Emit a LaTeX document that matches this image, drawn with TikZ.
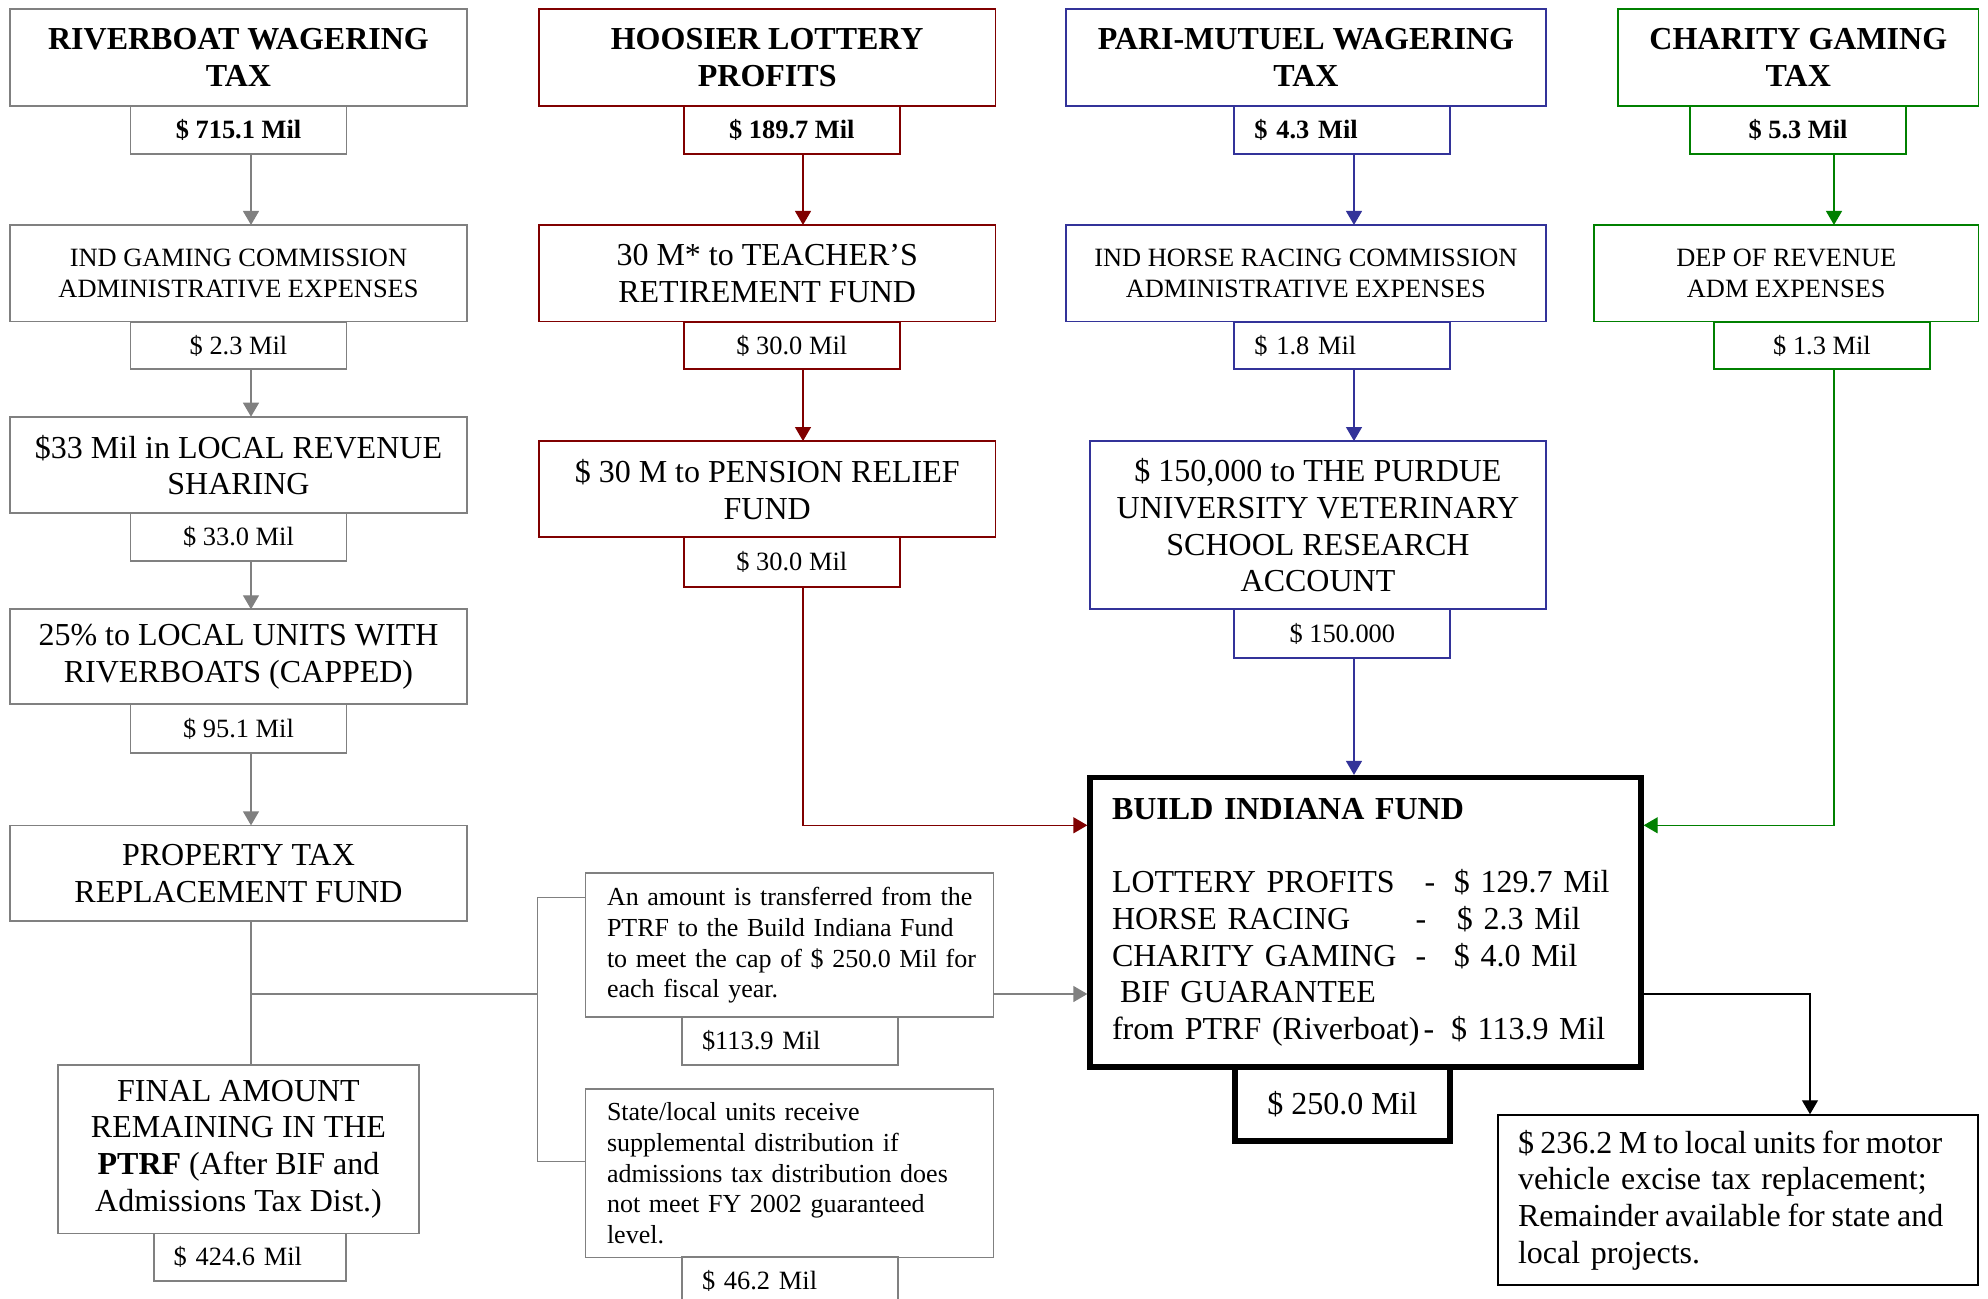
\documentclass[tikz,border=0pt]{standalone}
\usepackage{fontspec}
\setmainfont{Liberation Serif}
\usetikzlibrary{arrows.meta,calc}
\definecolor{cgray}{RGB}{128,128,128}
\definecolor{cred}{RGB}{128,0,0}
\definecolor{cblue}{RGB}{51,51,153}
\definecolor{cgreen}{RGB}{0,128,0}
\newcommand\FBig{\fontsize{16}{18.4}\selectfont}
\newcommand\FMid{\fontsize{13.2}{15.8}\selectfont}
\newcommand\FTxt{\fontsize{13}{15.4}\selectfont}
\newcommand\FBif{\fontsize{16}{18.3}\selectfont}
\begin{document}
\begin{tikzpicture}[x=0.5pt,y=-0.5pt,
  bx/.style={draw, line width=0.85pt, inner sep=0pt, outer sep=0pt, align=center, text=black},
  big/.style={bx, font=\FBig},
  ttl/.style={bx, font=\FBig\bfseries},
  mid/.style={bx, font=\FMid},
  amt/.style={bx, font=\FMid, minimum width=108pt, minimum height=24pt},
  amtb/.style={amt, font=\FMid\bfseries},
  amtl/.style={amt, align=left, text width=88pt, inner xsep=10pt},
  amtlb/.style={amtl, font=\FMid\bfseries},
  txt/.style={bx, font=\FTxt, align=left, inner xsep=0pt, text width=204pt, minimum width=204pt},
  arr/.style={line width=0.65pt, -{Triangle[width=8pt,length=7pt]}},
  ln/.style={line width=0.65pt},
]
\useasboundingbox (0,0) rectangle (1988,1299);

% column 1 (gray)
\node[ttl, draw=cgray, minimum width=228.5pt, minimum height=48.2pt] (r1) at (238.5,57.5) {RIVERBOAT WAGERING\\TAX};
\node[amtb, draw=cgray] (r1a) at (238.5,129.7) {\$ 715.1 Mil};
\node[mid, draw=cgray, minimum width=228.5pt, minimum height=48.35pt] (r2) at (238.5,273.3) {IND GAMING COMMISSION\\ADMINISTRATIVE EXPENSES};
\node[amt, draw=cgray, minimum height=23.8pt] (r2a) at (238.5,345.5) {\$ 2.3 Mil};
\node[big, draw=cgray, minimum width=228.5pt, minimum height=48.3pt] (r3) at (238.5,465) {\$33 Mil in LOCAL REVENUE\\SHARING};
\node[amt, draw=cgray] (r3a) at (238.5,537.3) {\$ 33.0 Mil};
\node[big, draw=cgray, minimum width=228.5pt, minimum height=47.5pt] (r4) at (238.5,656.8) {25\% to LOCAL UNITS WITH\\RIVERBOATS (CAPPED)};
\node[amt, draw=cgray, minimum height=24.5pt] (r4a) at (238.5,728.8) {\$ 95.1 Mil};
\node[big, draw=cgray, minimum width=228.5pt, minimum height=47.85pt] (r5) at (238.5,873.2) {PROPERTY TAX\\REPLACEMENT FUND};
\node[big, draw=cgray, minimum width=180.5pt, minimum height=84.15pt] (r6) at (238.5,1149.2) {FINAL AMOUNT\\REMAINING IN THE\\\textbf{PTRF} (After BIF and\\Admissions Tax Dist.)};
\node[amtl, draw=cgray, minimum width=96.3pt, text width=76.3pt, minimum height=23.85pt] (r6a) at (250,1257.2) {\$ 424.6 Mil};

% column 2 (red)
\node[ttl, draw=cred, minimum width=228.4pt, minimum height=48.2pt] (h1) at (767.2,57.5) {HOOSIER LOTTERY\\PROFITS};
\node[amtb, draw=cred] (h1a) at (791.8,129.7) {\$ 189.7 Mil};
\node[big, draw=cred, minimum width=228.4pt, minimum height=48.35pt] (h2) at (767.2,273.3) {30 M* to TEACHER’S\\RETIREMENT FUND};
\node[amt, draw=cred, minimum height=23.8pt] (h2a) at (791.8,345.5) {\$ 30.0 Mil};
\node[big, draw=cred, minimum width=228.4pt, minimum height=48.15pt] (h3) at (767.2,489.2) {\$ 30 M to PENSION RELIEF\\FUND};
\node[amt, draw=cred, minimum height=24.7pt] (h3a) at (791.8,562) {\$ 30.0 Mil};

% column 3 (blue)
\node[ttl, draw=cblue, minimum width=239.85pt, minimum height=48.2pt] (p1) at (1305.9,57.5) {PARI-MUTUEL WAGERING\\TAX};
\node[amtlb, draw=cblue] (p1a) at (1342.3,129.7) {\$ 4.3 Mil};
\node[mid, draw=cblue, minimum width=239.85pt, minimum height=48.35pt] (p2) at (1305.9,273.3) {IND HORSE RACING COMMISSION\\ADMINISTRATIVE EXPENSES};
\node[amtl, draw=cblue, minimum height=23.8pt] (p2a) at (1342.3,345.5) {\$ 1.8 Mil};
\node[big, draw=cblue, minimum width=228pt, minimum height=84.15pt] (p3) at (1318,525.2) {\$ 150,000 to THE PURDUE\\UNIVERSITY VETERINARY\\SCHOOL RESEARCH\\ACCOUNT};
\node[amt, draw=cblue, minimum height=24.2pt] (p3a) at (1342.3,633.5) {\$ 150.000};

% column 4 (green)
\node[ttl, draw=cgreen, minimum width=180.3pt, minimum height=48.2pt] (c1) at (1798.3,57.5) {CHARITY GAMING\\TAX};
\node[amtb, draw=cgreen] (c1a) at (1798,129.7) {\$ 5.3 Mil};
\node[mid, draw=cgreen, minimum width=192.3pt, minimum height=48.35pt] (c2) at (1786.3,273.3) {DEP OF REVENUE\\ADM EXPENSES};
\node[amt, draw=cgreen, minimum height=23.8pt] (c2a) at (1822,345.5) {\$ 1.3 Mil};

% middle text boxes (gray)
\node[txt, draw=cgray, minimum height=72pt] (t1) at (789.5,945.3) {\leftskip=10.75pt An amount is transferred from the\\PTRF to the Build Indiana Fund\\to meet the cap of \$ 250.0 Mil for\\each fiscal year.\par};
\node[amtl, draw=cgray, minimum height=23.85pt] (t1a) at (790,1041.2) {\$113.9 Mil};
\node[txt, draw=cgray, minimum height=84.15pt] (t2) at (789.5,1173.2) {\leftskip=10.75pt State/local units receive\\supplemental distribution if\\admissions tax distribution does\\not meet FY 2002 guaranteed\\level.\par};
\node[amtl, draw=cgray] (t2a) at (790,1281) {\$ 46.2 Mil};

% Build Indiana Fund
\node[draw, line width=2.65pt, minimum width=275.5pt, minimum height=144.75pt, inner xsep=0pt, text width=275.5pt, align=left, font=\FBif] (bif) at (1365.5,922.3)
 {\leftskip=11pt \textbf{BUILD INDIANA FUND}\\[18.3pt]
  \makebox[0pt][l]{LOTTERY PROFITS}\hspace*{159pt}\makebox[0pt]{-}\hspace*{12pt}\$ 129.7 Mil\\
  \makebox[0pt][l]{HORSE RACING}\hspace*{154.5pt}\makebox[0pt]{-}\hspace*{18pt}\$ 2.3 Mil\\
  \makebox[0pt][l]{CHARITY GAMING}\hspace*{154.5pt}\makebox[0pt]{-}\hspace*{16.5pt}\$ 4.0 Mil\\
  \makebox[0pt][l]{}\hspace*{4pt}BIF GUARANTEE\\
  \makebox[0pt][l]{from PTRF (Riverboat)}\hspace*{158.5pt}\makebox[0pt]{-}\hspace*{11pt}\$ 113.9 Mil\par};
\node[draw, line width=2.65pt, minimum width=107.5pt, minimum height=37pt, inner sep=0pt, font=\FBig] (bifa) at (1342.5,1104) {\$ 250.0 Mil};
\node[draw, line width=0.75pt, minimum height=85pt, inner xsep=0pt, text width=240pt, align=left, font=\FBif] (m) at (1738,1200) {\leftskip=10pt {\spaceskip=3.2pt\$ 236.2 M to local units for motor}\\vehicle excise tax replacement;\\{\spaceskip=3.4pt Remainder available for state and}\\local projects.\par};

% helper coordinates
\coordinate (x1) at (251,0);
\coordinate (x2) at (803,0);
\coordinate (x3) at (1354,0);
\coordinate (x4) at (1834,0);
\coordinate (x5) at (1810,0);
\coordinate (xb) at (537.6,0);
\coordinate (yj) at (0,994);
\coordinate (yr) at (0,825.3);
\coordinate (yb1) at (0,897.3);
\coordinate (yb2) at (0,1161.7);

% connectors column 1
\draw[arr, cgray] (r1a.south -| x1) -- (r2.north -| x1);
\draw[arr, cgray] (r2a.south -| x1) -- (r3.north -| x1);
\draw[arr, cgray] (r3a.south -| x1) -- (r4.north -| x1);
\draw[arr, cgray] (r4a.south -| x1) -- (r5.north -| x1);
\draw[ln, cgray] (r5.south -| x1) -- (r6.north -| x1);
\draw[ln, cgray] (x1 |- yj) -- (xb |- yj);
\draw[ln, cgray] (t1.west |- yb1) -| (xb |- yb2) -- (t2.west |- yb2);
\draw[arr, cgray] (t1.east |- yj) -- (bif.west |- yj);

% connectors column 2
\draw[arr, cred] (h1a.south -| x2) -- (h2.north -| x2);
\draw[arr, cred] (h2a.south -| x2) -- (h3.north -| x2);
\draw[arr, cred] (h3a.south -| x2) |- (bif.west |- yr);

% connectors column 3
\draw[arr, cblue] (p1a.south -| x3) -- (p2.north -| x3);
\draw[arr, cblue] (p2a.south -| x3) -- (p3.north -| x3);
\draw[arr, cblue] (p3a.south -| x3) -- (bif.north -| x3);

% connectors column 4
\draw[arr, cgreen] (c1a.south -| x4) -- (c2.north -| x4);
\draw[arr, cgreen] (c2a.south -| x4) |- (bif.east |- yr);

% out of BIF
\draw[arr, black] (bif.east |- yj) -| (m.north -| x5);
\end{tikzpicture}
\end{document}
